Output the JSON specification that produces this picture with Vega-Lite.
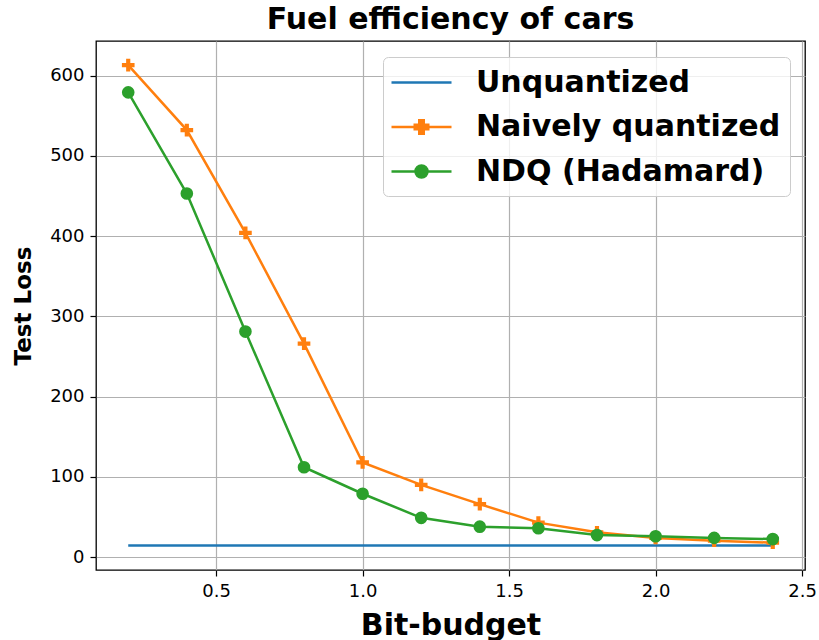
{
  "$schema": "https://vega.github.io/schema/vega-lite/v6.json",
  "width": 709,
  "height": 529,
  "autosize": {"type": "none"},
  "padding": {"left": 96, "top": 41, "right": 14, "bottom": 70},
  "background": "white",
  "title": {
    "text": "Fuel efficiency of cars",
    "font": "DejaVu Sans",
    "fontSize": 30,
    "fontWeight": "bold",
    "color": "black",
    "anchor": "middle",
    "offset": 6
  },
  "config": {
    "view": {"stroke": "black", "strokeWidth": 1.3},
    "axis": {
      "domain": false,
      "grid": true,
      "gridColor": "#b0b0b0",
      "gridWidth": 1.2,
      "tickColor": "black",
      "tickSize": 6,
      "tickWidth": 1.2,
      "labelFont": "DejaVu Sans",
      "labelFontSize": 18,
      "labelColor": "black",
      "labelPadding": 6,
      "titleFont": "DejaVu Sans",
      "titleFontWeight": "bold",
      "titleColor": "black"
    }
  },
  "data": {
    "values": [
      {"series": "Unquantized", "x": 0.2, "y": 14.6},
      {"series": "Unquantized", "x": 0.4, "y": 14.6},
      {"series": "Unquantized", "x": 0.6, "y": 14.6},
      {"series": "Unquantized", "x": 0.8, "y": 14.6},
      {"series": "Unquantized", "x": 1.0, "y": 14.6},
      {"series": "Unquantized", "x": 1.2, "y": 14.6},
      {"series": "Unquantized", "x": 1.4, "y": 14.6},
      {"series": "Unquantized", "x": 1.6, "y": 14.6},
      {"series": "Unquantized", "x": 1.8, "y": 14.6},
      {"series": "Unquantized", "x": 2.0, "y": 14.6},
      {"series": "Unquantized", "x": 2.2, "y": 14.6},
      {"series": "Unquantized", "x": 2.4, "y": 14.6},
      {"series": "Naively quantized", "x": 0.2, "y": 613},
      {"series": "Naively quantized", "x": 0.4, "y": 532},
      {"series": "Naively quantized", "x": 0.6, "y": 404},
      {"series": "Naively quantized", "x": 0.8, "y": 266},
      {"series": "Naively quantized", "x": 1.0, "y": 118},
      {"series": "Naively quantized", "x": 1.2, "y": 90},
      {"series": "Naively quantized", "x": 1.4, "y": 66},
      {"series": "Naively quantized", "x": 1.6, "y": 43},
      {"series": "Naively quantized", "x": 1.8, "y": 31},
      {"series": "Naively quantized", "x": 2.0, "y": 24},
      {"series": "Naively quantized", "x": 2.2, "y": 20.5},
      {"series": "Naively quantized", "x": 2.4, "y": 18},
      {"series": "NDQ (Hadamard)", "x": 0.2, "y": 579},
      {"series": "NDQ (Hadamard)", "x": 0.4, "y": 453},
      {"series": "NDQ (Hadamard)", "x": 0.6, "y": 281},
      {"series": "NDQ (Hadamard)", "x": 0.8, "y": 112},
      {"series": "NDQ (Hadamard)", "x": 1.0, "y": 79},
      {"series": "NDQ (Hadamard)", "x": 1.2, "y": 49},
      {"series": "NDQ (Hadamard)", "x": 1.4, "y": 38},
      {"series": "NDQ (Hadamard)", "x": 1.6, "y": 36},
      {"series": "NDQ (Hadamard)", "x": 1.8, "y": 27.5},
      {"series": "NDQ (Hadamard)", "x": 2.0, "y": 26},
      {"series": "NDQ (Hadamard)", "x": 2.2, "y": 24},
      {"series": "NDQ (Hadamard)", "x": 2.4, "y": 22.5}
    ]
  },
  "encoding": {
    "x": {
      "field": "x",
      "type": "quantitative",
      "scale": {"domain": [0.09, 2.51], "nice": false, "zero": false},
      "axis": {
        "title": "Bit-budget",
        "titleFontSize": 30,
        "titlePadding": 10,
        "values": [0.5, 1.0, 1.5, 2.0, 2.5],
        "format": ".1f"
      }
    },
    "y": {
      "field": "y",
      "type": "quantitative",
      "scale": {"domain": [-16, 643], "nice": false, "zero": false},
      "axis": {
        "title": "Test Loss",
        "titleFontSize": 23,
        "titlePadding": 14,
        "values": [0, 100, 200, 300, 400, 500, 600]
      }
    },
    "color": {
      "field": "series",
      "type": "nominal",
      "sort": ["Unquantized", "Naively quantized", "NDQ (Hadamard)"],
      "scale": {
        "domain": ["Unquantized", "Naively quantized", "NDQ (Hadamard)"],
        "range": ["#1f77b4", "#ff7f0e", "#2ca02c"]
      },
      "legend": {
        "title": null,
        "orient": "none",
        "legendX": 287,
        "legendY": 16,
        "labelFont": "DejaVu Sans",
        "labelFontSize": 30,
        "labelFontWeight": "bold",
        "labelColor": "black",
        "labelLimit": 0,
        "labelOffset": 38,
        "symbolSize": 900,
        "symbolOffset": 13,
        "symbolStrokeWidth": 2.5,
        "rowPadding": 12.5,
        "padding": 9,
        "fillColor": "rgba(255,255,255,0.8)",
        "strokeColor": "#cccccc",
        "cornerRadius": 5,
        "encode": {
          "symbols": {
            "update": {
              "shape": {"signal": "datum.value === 'Unquantized' ? 'M-2,0H2' : datum.value === 'Naively quantized' ? 'M-2,0H2M-0.45,-0.15H-0.15V-0.45H0.15V-0.15H0.45V0.15H0.15V0.45H-0.15V0.15H-0.45Z' : 'M-2,0H2M-0.4,0A0.4,0.4,0,1,0,0.4,0A0.4,0.4,0,1,0,-0.4,0Z'"},
              "fill": {"signal": "scale('color', datum.value)"},
              "stroke": {"signal": "scale('color', datum.value)"},
              "opacity": {"value": 1},
              "fillOpacity": {"value": 1},
              "strokeWidth": {"value": 2.5}
            }
          }
        }
      }
    }
  },
  "layer": [
    {
      "mark": {"type": "line", "strokeWidth": 2.5}
    },
    {
      "transform": [{"filter": "datum.series !== 'Unquantized'"}],
      "mark": {"type": "point", "filled": true, "opacity": 1},
      "encoding": {
        "shape": {
          "field": "series",
          "type": "nominal",
          "scale": {
            "domain": ["Naively quantized", "NDQ (Hadamard)"],
            "range": ["M-0.33,-1H0.33V-0.33H1V0.33H0.33V1H-0.33V0.33H-1V-0.33H-0.33Z", "circle"]
          },
          "legend": null
        },
        "size": {"value": 160}
      }
    }
  ]
}
